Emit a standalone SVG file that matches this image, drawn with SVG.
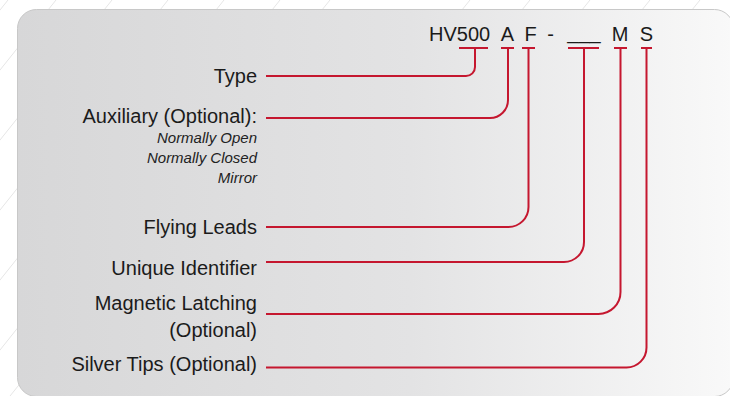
<svg xmlns="http://www.w3.org/2000/svg" width="730" height="396" viewBox="0 0 730 396">
  <defs>
    <linearGradient id="panelGrad" x1="0" y1="0" x2="1" y2="0">
      <stop offset="0" stop-color="#d7d7d8"/>
      <stop offset="0.55" stop-color="#e3e3e4"/>
      <stop offset="1" stop-color="#f9f9f9"/>
    </linearGradient>
    <style>
      .bgline { stroke: #e6e6e6; stroke-width: 1; fill: none; }
      .panel { fill: url(#panelGrad); stroke: #c8c8c8; stroke-width: 1; }
      .lbl { font-family: "Liberation Sans", Arial, sans-serif; font-size: 20px; fill: #1b1b1b; text-anchor: end; }
      .sub { font-family: "Liberation Sans", Arial, sans-serif; font-size: 15px; font-style: italic; fill: #222; text-anchor: end; }
      .code { font-family: "Liberation Sans", Arial, sans-serif; font-size: 20px; fill: #1b1b1b; }
      .mid { text-anchor: middle; }
      .conn { stroke: #c5172f; stroke-width: 2; fill: none; }
    </style>
  </defs>

  <rect x="0" y="0" width="730" height="396" fill="#ffffff"/>
  <g id="background-lines">
    <line class="bgline" x1="-40" y1="60" x2="8" y2="0"/>
    <line class="bgline" x1="-40" y1="120" x2="56" y2="0"/>
    <line class="bgline" x1="-40" y1="190" x2="112" y2="0"/>
    <line class="bgline" x1="-40" y1="260" x2="168" y2="0"/>
    <line class="bgline" x1="-40" y1="330" x2="224" y2="0"/>
    <line class="bgline" x1="-40" y1="400" x2="280" y2="0"/>
    <line class="bgline" x1="10" y1="396" x2="330" y2="0"/>
    <line class="bgline" x1="150" y1="396" x2="470" y2="0"/>
    <line class="bgline" x1="210" y1="396" x2="530" y2="0"/>
    <line class="bgline" x1="270" y1="396" x2="590" y2="0"/>
    <line class="bgline" x1="330" y1="396" x2="650" y2="0"/>
    <line class="bgline" x1="380" y1="396" x2="700" y2="0"/>
  </g>

  <rect class="panel" x="17.5" y="9.5" width="716" height="387" rx="19" ry="19"/>

  <g id="code">
    <text class="code" x="429" y="41">HV500</text>
    <text class="code mid" x="507.5" y="41">A</text>
    <text class="code mid" x="530.5" y="41">F</text>
    <text class="code mid" x="550.5" y="41">-</text>
    <text class="code mid" x="584" y="39">___</text>
    <text class="code mid" x="620" y="41">M</text>
    <text class="code mid" x="646.5" y="41">S</text>
  </g>

  <g id="connectors">
    <path class="conn" d="M459 48 H488 M475 48 V67 A9 9 0 0 1 466 76 H266"/>
    <path class="conn" d="M501 48 H514 M508 48 V100 A18 18 0 0 1 490 118 H266"/>
    <path class="conn" d="M522 48 H535 M528.5 48 V207 A20 20 0 0 1 508.5 227 H266"/>
    <path class="conn" d="M568 48 H599 M584 48 V242 A20 20 0 0 1 564 262 H266"/>
    <path class="conn" d="M614 48 H627 M620.5 48 V292 A22 22 0 0 1 598.5 314 H266"/>
    <path class="conn" d="M641 48 H652 M646.5 48 V347.5 A20 20 0 0 1 626.5 367.5 H266"/>
  </g>

  <g id="node-type">
    <text class="lbl" x="257" y="83">Type</text>
  </g>
  <g id="node-auxiliary">
    <text class="lbl" x="257" y="123">Auxiliary (Optional):</text>
    <text class="sub" x="257" y="143">Normally Open</text>
    <text class="sub" x="257" y="163">Normally Closed</text>
    <text class="sub" x="257" y="183">Mirror</text>
  </g>
  <g id="node-flying-leads">
    <text class="lbl" x="257" y="234">Flying Leads</text>
  </g>
  <g id="node-unique-identifier">
    <text class="lbl" x="257" y="275">Unique Identifier</text>
  </g>
  <g id="node-magnetic-latching">
    <text class="lbl" x="257" y="310">Magnetic Latching</text>
    <text class="lbl" x="257" y="337">(Optional)</text>
  </g>
  <g id="node-silver-tips">
    <text class="lbl" x="257" y="371">Silver Tips (Optional)</text>
  </g>
</svg>
